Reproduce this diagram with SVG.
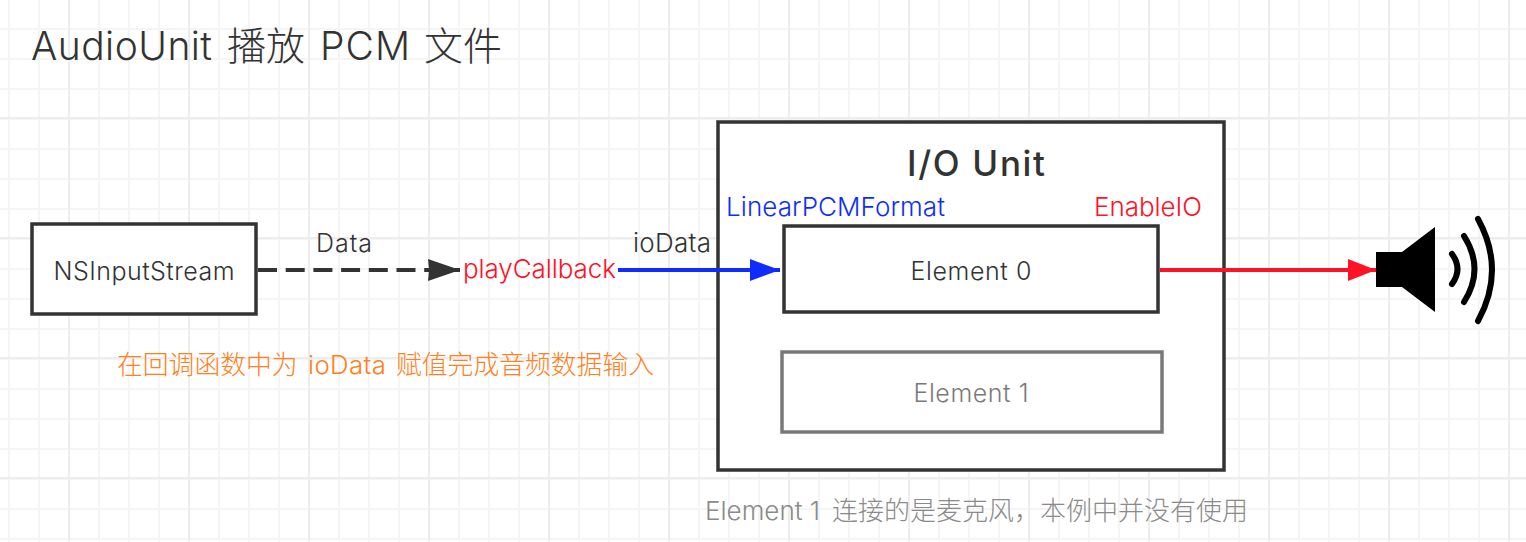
<svg xmlns="http://www.w3.org/2000/svg" width="1526" height="542" viewBox="0 0 1526 542">
<style>
text{font-family:"Inter","Noto Sans CJK SC",sans-serif;font-weight:300;fill:#333}
.box{fill:#fff;stroke:#333;stroke-width:3.5}
.mid{text-anchor:middle}
.conn{fill:none;stroke-width:4}
</style>
<defs>
<pattern id="minor" width="30" height="30" patternUnits="userSpaceOnUse" x="8" y="28"><path d="M1 0V30M0 1H30" fill="none" stroke="#f5f5f5" stroke-width="2"/></pattern>
<pattern id="major" width="120" height="120" patternUnits="userSpaceOnUse" x="68" y="117"><path d="M1 0V120M0 1H120" fill="none" stroke="#ededed" stroke-width="2"/></pattern>
<marker id="ab" markerUnits="userSpaceOnUse" markerWidth="34" markerHeight="24" refX="32" refY="11" orient="auto"><path d="M0 0L32 11L0 22L1 11Z" fill="#333"/></marker>
<marker id="ar" markerUnits="userSpaceOnUse" markerWidth="30" markerHeight="24" refX="28" refY="11" orient="auto"><path d="M0 0L28 11L0 22Z" fill="#ff1226"/></marker>
<marker id="au" markerUnits="userSpaceOnUse" markerWidth="32" markerHeight="24" refX="30" refY="11" orient="auto"><path d="M0 0L30 11L0 22Z" fill="#0f2cff"/></marker>
</defs>
<rect width="1526" height="542" fill="#fff"/>
<rect width="1526" height="542" fill="url(#minor)"/>
<rect width="1526" height="542" fill="url(#major)"/>
<text y="60" font-size="39"><tspan x="31" textLength="181">AudioUnit</tspan><tspan x="227">播放</tspan><tspan x="320" textLength="90">PCM</tspan><tspan x="424">文件</tspan></text>
<g id="io-unit"><rect class="box" x="718" y="122" width="506" height="348"/><text class="mid" x="976" y="176" font-size="35" style="font-weight:500" textLength="138">I/O Unit</text></g>
<g id="connectors">
<path class="conn" d="M258 270H460" stroke="#333" stroke-dasharray="19 8.7" marker-end="url(#ab)"/>
<path class="conn" d="M618 270H780" stroke="#0f2cff" marker-end="url(#au)"/>
<path class="conn" d="M1160 270H1376" stroke="#ff1226" marker-end="url(#ar)"/>
</g>
<g id="nsinputstream"><rect class="box" x="32" y="224" width="224" height="90"/><text class="mid" x="144" y="280" font-size="25" textLength="181">NSInputStream</text></g>
<g id="element-0"><rect class="box" x="784" y="226" width="374" height="86"/><text class="mid" x="971" y="280" font-size="25" textLength="121">Element 0</text></g>
<g id="element-1" opacity="0.65"><rect class="box" x="782" y="352" width="380" height="80"/><text class="mid" x="971" y="402" font-size="25" textLength="115">Element 1</text></g>
<g id="speaker">
<path d="M1376 252H1402L1435 227V312L1402 287H1376Z" fill="#000"/>
<g fill="none" stroke="#000" stroke-width="6" stroke-linecap="round">
<path d="M1452 254Q1463 269 1452 284"/>
<path d="M1464 236Q1485 269 1464 302"/>
<path d="M1478 219Q1506 270 1478 321"/>
</g>
</g>
<g id="labels">
<text x="316" y="252" font-size="25" textLength="56">Data</text>
<text x="463" y="278" font-size="26" style="fill:#ff1226" textLength="153">playCallback</text>
<text x="633" y="252" font-size="26" textLength="78">ioData</text>
<text x="726" y="216" font-size="26" style="fill:#0f2cff" textLength="219">LinearPCMFormat</text>
<text x="1094" y="216" font-size="26" style="fill:#ff1226" textLength="108">EnableIO</text>
<text y="374" font-size="25.8" style="fill:#ff8020"><tspan x="117">在回调函数中为</tspan><tspan x="308" textLength="78">ioData</tspan><tspan x="396">赋值完成音频数据输入</tspan></text>
<text y="520" font-size="26" style="fill:#8a8a8a"><tspan x="705" textLength="115">Element 1</tspan><tspan x="832">连接的是麦克风，本例中并没有使用</tspan></text>
</g>
</svg>
